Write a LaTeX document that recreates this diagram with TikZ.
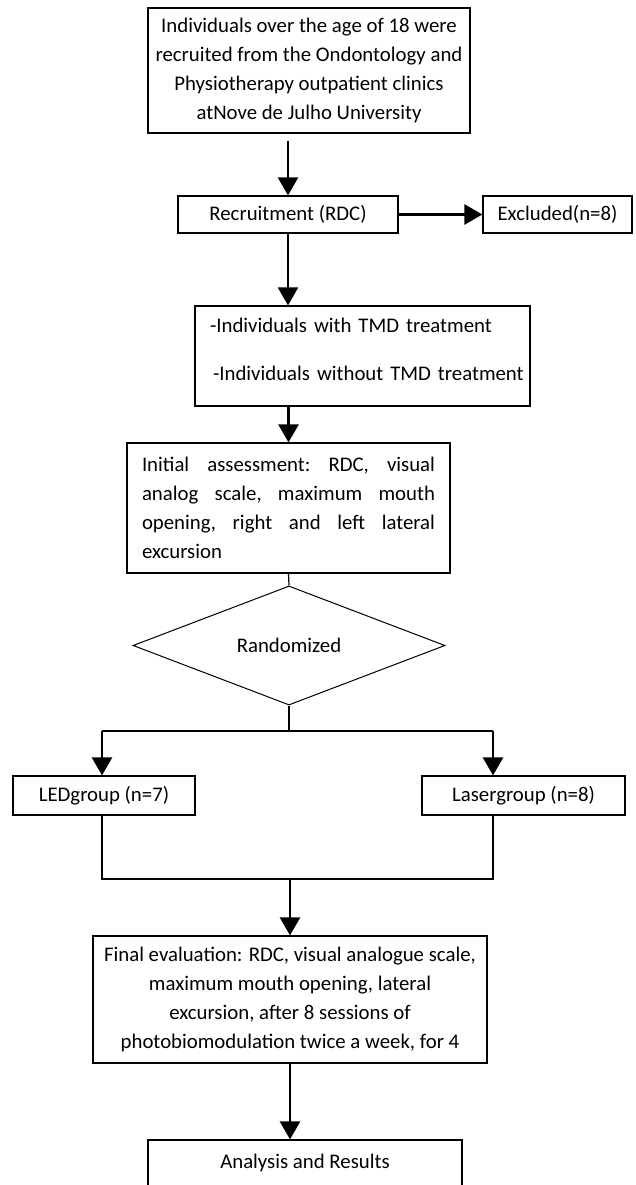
\documentclass[tikz,border=0pt]{standalone}
\usepackage{fontspec}
\setmainfont{Carlito}
\usetikzlibrary{arrows.meta,shapes.geometric}
\begin{document}
\begin{tikzpicture}[x=1pt,y=-1pt,
  box/.style={draw, line width=1.2pt, inner sep=0pt, font=\fontsize{20.8}{29}\selectfont, align=center},
  thickarrow/.style={line width=2.6pt, -{Triangle[width=20pt,length=18pt]}},
  thinline/.style={line width=1.2pt}]
\useasboundingbox (0,0) rectangle (635,1185);
\clip (0,0) rectangle (635,1185);
\fill[white] (0,0) rectangle (635,1185);

\node[box, minimum width=322pt, minimum height=125pt] (b1) at (309,70.5)
  {Individuals over the age of 18 were\\recruited from the Ondontology and\\Physiotherapy outpatient clinics\\atNove de Julho University};
\node[box, minimum width=220pt, minimum height=37pt] (rec) at (288,214.5) {Recruitment (RDC)};
\node[box, minimum width=149pt, minimum height=37pt] (exc) at (557.5,214.5) {Excluded(n=8)};
\node[box, align=left, text width=305pt, inner xsep=15pt, text height=26pt, text depth=74pt] (b3) at (362.5,356)
  {\mbox{-Individuals with TMD treatment}\\[19pt]\mbox{\hspace*{3pt}-Individuals without TMD treatment}};
\node[box, align=left, text width=293pt, inner xsep=15pt, minimum height=130pt] (b4) at (288.5,508)
  {\makebox[293pt][l]{Initial\hfill assessment:\hfill RDC,\hfill visual}\\
   \makebox[293pt][l]{analog\hfill scale,\hfill maximum\hfill mouth}\\
   \makebox[293pt][l]{opening,\hfill right\hfill and\hfill left\hfill lateral}\\
   excursion};
\node[draw, diamond, line width=1pt, minimum width=312pt, minimum height=85pt, inner sep=0pt,
  font=\fontsize{20.8}{29}\selectfont] (dia) at (289,645.5) {Randomized};
\node[box, minimum width=182pt, minimum height=39pt] (led) at (104,795.5) {LEDgroup (n=7)};
\node[box, minimum width=203pt, minimum height=39pt] (las) at (523.5,795.5) {Lasergroup (n=8)};
\node[box, minimum width=394pt, minimum height=127pt] (fin) at (290,999.5)
  {Final evaluation: RDC, visual analogue scale,\\maximum mouth opening, lateral\\excursion, after 8 sessions of\\photobiomodulation twice a week, for 4};
\node[box, minimum width=314pt, minimum height=46pt] (ana) at (305,1163) {Analysis and Results};

\coordinate (jL) at (102,731);
\coordinate (jR) at (493,731);
\coordinate (mL) at (102,879);
\coordinate (mR) at (493,879);

\draw[thickarrow, shorten <=7pt] (rec.north |- b1.south) -- (rec.north);
\draw[thickarrow] (rec.east) -- (exc.west);
\draw[thickarrow] (rec.south) -- (rec.south |- b3.north);
\draw[thickarrow] (b4.north |- b3.south) -- (b4.north);
\draw[thinline] (b4.south) -- (dia.north);
\draw[thinline] (dia.south) -- (dia.south |- jL);
\draw[thinline] (jL) -- (jR);
\draw[thickarrow] (jL) -- (jL |- led.north);
\draw[thickarrow] (jR) -- (jR |- las.north);
\draw[thinline] (jL |- led.south) -- (mL) -- (mR) -- (jR |- las.south);
\draw[thickarrow] (fin.north |- mL) -- (fin.north);
\draw[thickarrow] (fin.south) -- (fin.south |- ana.north);
\end{tikzpicture}
\end{document}
